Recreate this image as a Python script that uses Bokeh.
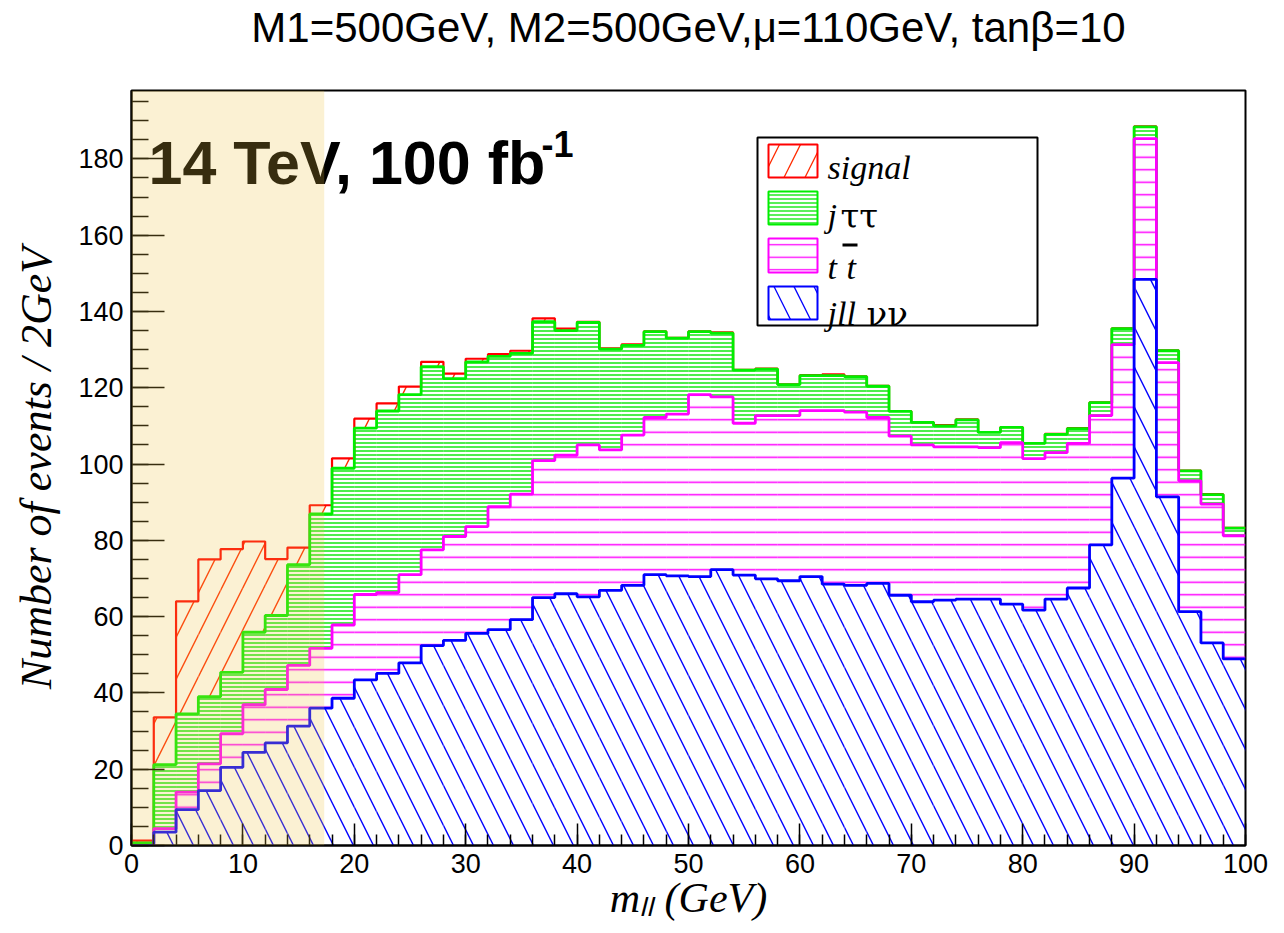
import numpy as np
from bokeh.plotting import figure
from bokeh.models import ColumnDataSource, Label, BoxAnnotation, SingleIntervalTicker, Range1d, Title
from bokeh.embed import file_html
from bokeh.resources import INLINE

# ---------------- data (events per 2 GeV bin, m_ll from 0 to 100 GeV) ----------------
bin_low = list(range(0, 100, 2))
bin_width = 2
jllvv = [0.0, 3.5, 9.4, 14.4, 20.5, 24.4, 26.9, 31.3, 36.0, 38.6,
         43.4, 45.1, 47.9, 52.4, 53.8, 55.6, 56.6, 59.2, 65.0, 66.0,
         65.2, 66.9, 68.2, 71.0, 70.7, 70.5, 72.3, 70.9, 69.9, 69.4,
         70.5, 68.5, 68.2, 68.7, 65.6, 63.9, 64.3, 64.6, 64.6, 63.3,
         61.7, 64.6, 67.5, 78.8, 96.3, 148.4, 91.4, 61.3, 53.1, 48.9]
ttbar = [0.0, 0.9, 4.6, 7.0, 8.8, 12.5, 14.0, 15.9, 15.7, 19.2,
         22.4, 21.2, 23.1, 25.1, 27.2, 28.0, 32.2, 32.9, 35.9, 36.3,
         39.8, 36.8, 39.4, 41.2, 42.4, 47.7, 45.3, 39.8, 42.8, 43.3,
         43.5, 45.5, 45.4, 43.5, 41.7, 41.1, 40.2, 39.9, 39.7, 42.3,
         39.7, 38.4, 37.9, 33.9, 35.0, 36.9, 35.2, 34.3, 36.4, 32.3]
jtautau = [0.7, 16.8, 20.5, 17.6, 16.1, 19.0, 19.4, 26.4, 35.2, 41.1,
           43.6, 47.6, 47.2, 48.0, 41.4, 43.2, 39.4, 36.9, 36.4, 32.7,
           32.1, 26.4, 23.5, 22.5, 19.9, 16.5, 16.7, 13.9, 12.2, 8.1,
           9.2, 9.2, 9.3, 8.2, 6.5, 5.9, 5.5, 7.1, 4.0, 4.0,
           4.0, 4.8, 3.9, 3.4, 4.2, 3.1, 3.1, 2.6, 2.5, 2.0]
signal = [0.6, 12.4, 29.5, 36.0, 32.3, 23.8, 14.8, 4.5, 2.3, 2.6,
          2.5, 2.0, 2.1, 1.3, 1.3, 0.8, 0.6, 0.7, 0.9, 0.5,
          0.2, 0.2, 0.3, 0.1, 0.1, 0.1, 0.2, 0.1, 0.1, 0.1,
          0.1, 0.3, 0.1, 0.1, 0.1, 0.1, 0.2, 0.1, 0.1, 0.1,
          0.1, 0.1, 0.1, 0.1, 0.1, 0.1, 0.1, 0.1, 0.1, 0.1]
x_ticks_major = 10
y_ticks_major = 20
cut_low, cut_high = 0, 17.3

# ---------------- stacking ----------------
left = np.array(bin_low, dtype=float)
right = left + bin_width
c1 = np.array(jllvv)
c2 = c1 + np.array(ttbar)
c3 = c2 + np.array(jtautau)
c4 = c3 + np.array(signal)
zeros = np.zeros_like(c1)
ymax = 1.05 * c4.max()

src = ColumnDataSource(dict(left=left, right=right, c0=zeros, c1=c1, c2=c2, c3=c3, c4=c4))
edges = np.append(left, right[-1])
step_src = ColumnDataSource(dict(x=edges,
                                 c1=np.append(c1, c1[-1]), c2=np.append(c2, c2[-1]),
                                 c3=np.append(c3, c3[-1]), c4=np.append(c4, c4[-1])))

W, H = 1284, 933
FL, FR, FT, FB = 131, 1245, 90, 845   # frame in pixels

p = figure(width=W, height=H, x_range=Range1d(0, 100), y_range=Range1d(0, ymax),
           output_backend="svg", toolbar_location=None,
           min_border_left=FL, min_border_right=W - FR, min_border_top=FT, min_border_bottom=H - FB)
p.grid.visible = False
p.outline_line_color = "black"
p.outline_line_width = 2
p.outline_line_alpha = 1
p.background_fill_color = "white"
p.border_fill_color = "white"

# spacer panel next to the frame, then the title above it
p.add_layout(Title(text=" ", text_font_size="10px", standoff=24), "above")
p.add_layout(Title(text="M1=500GeV, M2=500GeV,\u03bc=110GeV, tan\u03b2=10", align="center",
                   vertical_align="top",
                   text_font="Liberation Sans", text_font_size="42px", text_font_style="normal",
                   text_color="black", standoff=2), "above")

def dx(px):
    return (px - FL) / (FR - FL) * 100.0

def dy(py):
    return (FB - py) / (FB - FT) * ymax

# ---------------- hatched bands ----------------
p.quad(left="left", right="right", bottom="c3", top="c4", source=src, fill_alpha=0, line_alpha=0,
       hatch_pattern="/", hatch_color="#ff2a00", hatch_scale=42, hatch_weight=1.4)
p.quad(left="left", right="right", bottom="c2", top="c3", source=src, fill_alpha=0, line_alpha=0,
       hatch_pattern="-", hatch_color="#00e600", hatch_scale=4, hatch_weight=1.4)
p.quad(left="left", right="right", bottom="c1", top="c2", source=src, fill_alpha=0, line_alpha=0,
       hatch_pattern="-", hatch_color="#ff00ff", hatch_scale=12.5, hatch_weight=1.5)
p.quad(left="left", right="right", bottom="c0", top="c1", source=src, fill_alpha=0, line_alpha=0,
       hatch_pattern="\\", hatch_color="#0000ff", hatch_scale=40, hatch_weight=1.4)

# ---------------- outlines ----------------
p.step(x="x", y="c4", source=step_src, mode="after", line_color="#ff0000", line_width=2.2)
p.step(x="x", y="c3", source=step_src, mode="after", line_color="#00ee00", line_width=2.8)
p.step(x="x", y="c2", source=step_src, mode="after", line_color="#ff00ff", line_width=2.8)
p.step(x="x", y="c1", source=step_src, mode="after", line_color="#0000ff", line_width=2.8)

# ---------------- axes ----------------
for ax in (p.xaxis, p.yaxis):
    ax.axis_line_width = 2
    ax.axis_line_color = "black"
    ax.major_tick_out = 0
    ax.minor_tick_out = 0
    ax.major_tick_line_color = "black"
    ax.minor_tick_line_color = "black"
    ax.major_tick_line_width = 1.5
    ax.minor_tick_line_width = 1.5
    ax.major_label_text_font = "Liberation Sans"
    ax.major_label_text_font_size = "27px"
    ax.major_label_text_color = "black"
    ax.major_label_standoff = 8
    ax.axis_label_text_font = "Liberation Serif"
    ax.axis_label_text_font_style = "italic"
    ax.axis_label_text_color = "black"

p.xaxis.ticker = SingleIntervalTicker(interval=x_ticks_major, num_minor_ticks=5)
p.yaxis.ticker = SingleIntervalTicker(interval=y_ticks_major, num_minor_ticks=4)
p.xaxis.major_tick_in = 22
p.xaxis.minor_tick_in = 11
p.yaxis.major_tick_in = 33
p.yaxis.minor_tick_in = 17
p.yaxis.axis_label = "Number of events / 2GeV"
p.yaxis.axis_label_text_font_size = "44px"
p.yaxis.axis_label_standoff = 14
p.xaxis.axis_label = "m\u2097\u2097 (GeV)"
p.xaxis.axis_label_text_font_size = "42px"
p.xaxis.axis_label_standoff = -1

# ---------------- text inside the frame ----------------
def add_label(text, px, py, size, font="Liberation Sans", style="normal", align="left", angle=0, color="black"):
    p.add_layout(Label(x=dx(px), y=dy(py), text=text, text_font=font, text_font_size=f"{size}px",
                       text_font_style=style, text_align=align, text_baseline="alphabetic",
                       angle=angle, text_color=color))

add_label("14 TeV, 100 fb", 148, 162, 61, style="bold")
add_label("-1", 541, 143, 36, style="bold")

# ---------------- legend ----------------
lg = BoxAnnotation(left=dx(757), right=dx(1037), top=dy(137), bottom=dy(325),
                   fill_color="white", fill_alpha=1, line_color="black", line_alpha=1, line_width=2)
p.add_layout(lg)
sw = [("/", "#ff2a00", "#ff0000", 42, 144, 177),
      ("-", "#00e600", "#00ee00", 4, 191, 224),
      ("-", "#ff00ff", "#ff00ff", 12.5, 238, 272),
      ("\\", "#0000ff", "#0000ff", 40, 286, 319)]
for pat, hc, lc, sc, t_, b_ in sw:
    p.add_layout(BoxAnnotation(left=dx(768), right=dx(817), top=dy(t_), bottom=dy(b_),
                               fill_alpha=0, hatch_pattern=pat, hatch_color=hc, hatch_scale=sc,
                               hatch_alpha=1, hatch_weight=1.3, line_color=lc, line_alpha=1, line_width=2))

add_label("signal", 827, 167, 34, font="Liberation Serif", style="italic")
add_label("j", 827, 215, 34, font="Liberation Serif", style="italic")
add_label("\u03c4\u03c4", 840, 215, 34, font="DejaVu Serif")
add_label("t", 827, 267, 34, font="Liberation Serif", style="italic")
add_label("t", 846, 267, 34, font="Liberation Serif", style="italic")
p.add_layout(BoxAnnotation(left=dx(842), right=dx(857), top=dy(243), bottom=dy(246),
                           fill_color="black", fill_alpha=1, line_alpha=0))
add_label("jll", 827, 313, 34, font="Liberation Serif", style="italic")
add_label("\u03bd\u03bd", 866, 313, 34, font="DejaVu Serif")

# ---------------- highlighted cut region (drawn on top) ----------------
band = BoxAnnotation(left=cut_low, right=cut_high, fill_color=(239, 196, 65), fill_alpha=0.23,
                     line_alpha=0, level="overlay")
p.add_layout(band)

open("out.html", "w").write(file_html(p, INLINE))
